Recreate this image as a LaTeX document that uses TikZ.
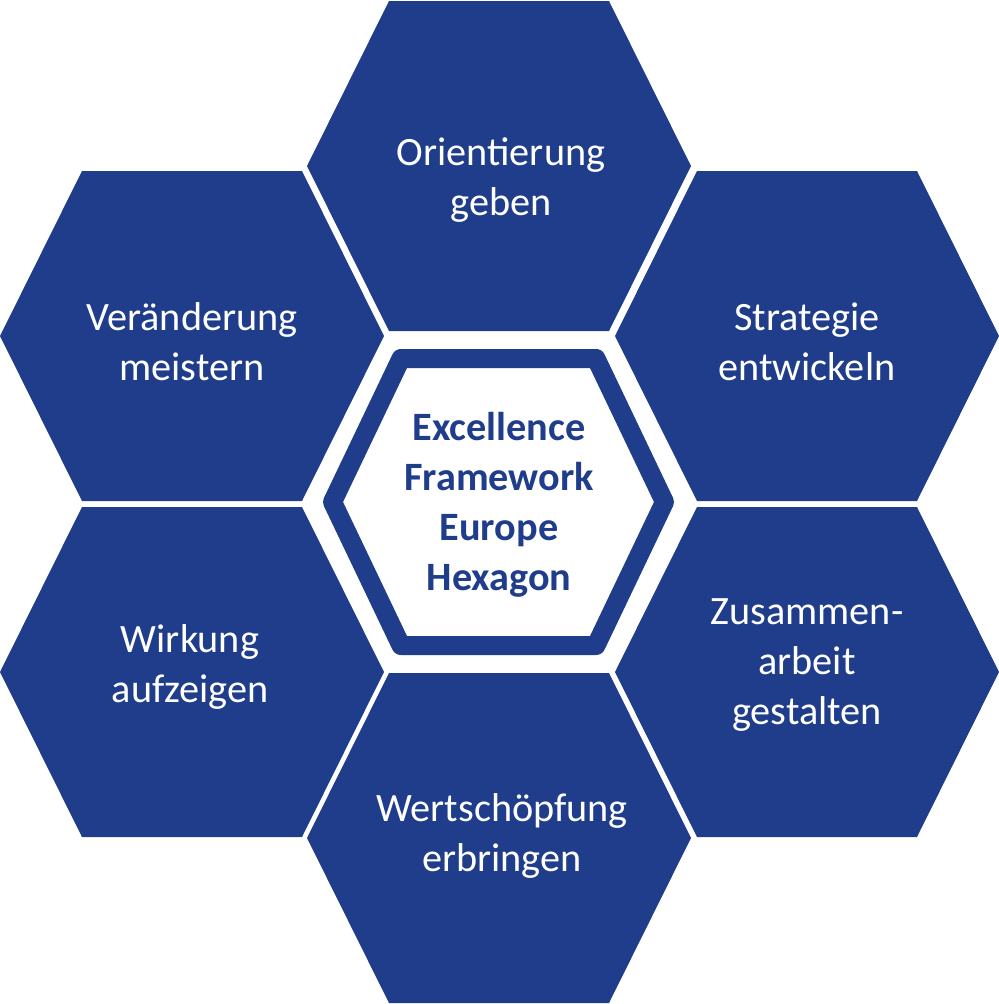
\documentclass[tikz,border=0pt]{standalone}
\usepackage{fontspec}
\setmainfont{Carlito}
\usepackage{tikz}
\usetikzlibrary{positioning}

\definecolor{hexblue}{RGB}{31,61,139}

\begin{document}
\begin{tikzpicture}[x=0.2mm, y=-0.2mm]
        \tikzset{
            % Define style for the outer cells
            zelle/.style={
                    fill=hexblue,
                    draw=none},
            % Define style for the cell labels
            schrift/.style={
                    anchor=base,
                    align=center,
                    text=white,
                    inner sep=0pt,
                    font=\fontsize{22.9}{28.45}\selectfont},
            % Define style for the centre cell
            kern/.style={
                    draw=hexblue,
                    fill=white,
                    line width=3.8mm,
                    line join=round},
            kernschrift/.style={
                    schrift,
                    text=hexblue,
                    font=\fontsize{22.9}{28.45}\selectfont\bfseries},
        }
        \useasboundingbox (0,0) rectangle (999,1004);

        % Draw the cells
        \foreach \cx/\cy in {499/166, 192/336, 807/336, 192/672, 807/672, 499/838}
            \fill[zelle] (\cx-192,\cy) -- (\cx-110,\cy-165) -- (\cx+110,\cy-165)
                -- (\cx+192,\cy) -- (\cx+110,\cy+165) -- (\cx-110,\cy+165) -- cycle;

        % Draw the centre cell
        \draw[kern] (332.5,502) -- (401,358.5) -- (596,358.5) -- (664.5,502)
            -- (596,645.5) -- (401,645.5) -- cycle;

        % Put the labels (anchor base = last line)
        \node[schrift] (orient) at (501,215) {Orientierung\\geben};
        \node[schrift] (wandel) at (192,380) {Veränderung\\meistern};
        \node[schrift] (strat) at (807,380) {Strategie\\entwickeln};
        \node[schrift] (wirk) at (190,702) {Wirkung\\aufzeigen};
        \node[schrift] (zusam) at (807,724) {Zusammen-\\arbeit\\gestalten};
        \node[schrift] (wert) at (502,871) {Wertschöpfung\\erbringen};
        \node[kernschrift] (kern) at (499,590) {Excellence\\Framework\\Europe\\Hexagon};

    \end{tikzpicture}
\end{document}
